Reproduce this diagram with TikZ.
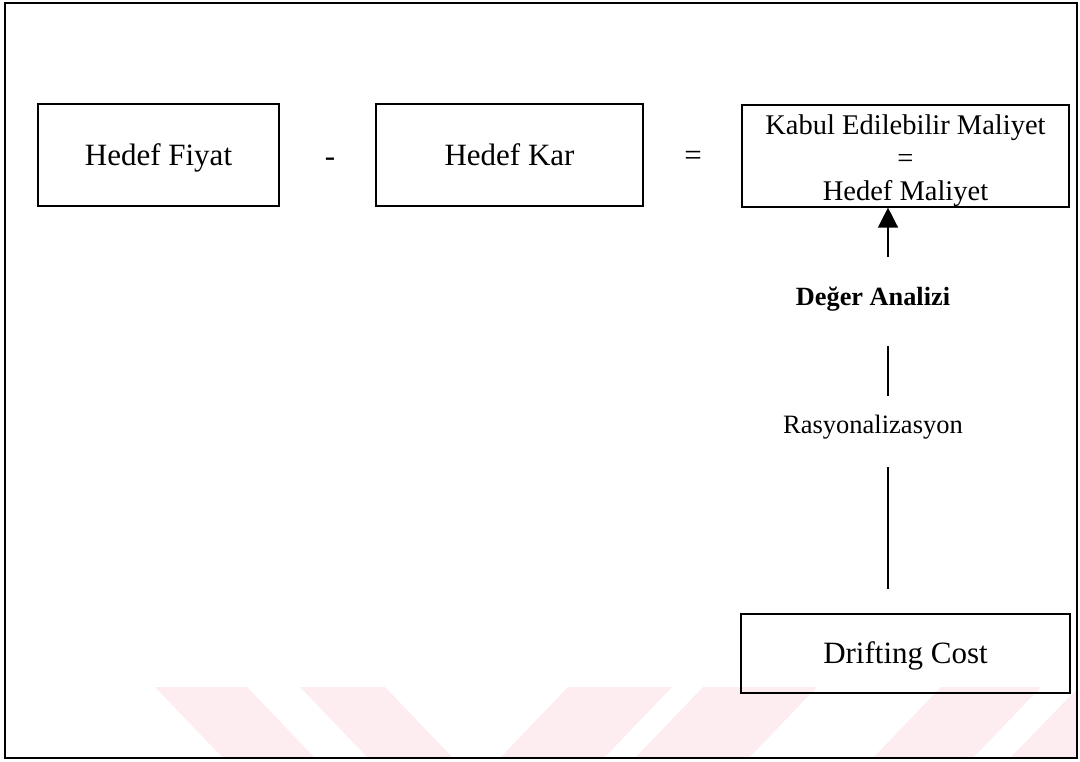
\documentclass[tikz,border=0pt]{standalone}
\usepackage{fontspec}
\setmainfont{Liberation Serif}
\usetikzlibrary{arrows.meta}
\definecolor{stripepink}{RGB}{253,236,240}
\tikzset{
  boxtext/.style={font=\fontsize{31bp}{36bp}\selectfont},
  costbox/.style={draw, line width=1.2bp, inner sep=0pt, boxtext,
                  text height=20.5bp, text depth=0bp},
  flowlabel/.style={anchor=base, font=\fontsize{25.5bp}{30bp}\selectfont},
  flowline/.style={line width=1.5bp},
  stripe/.style={fill=stripepink, draw=none}
}
\begin{document}
\begin{tikzpicture}[x=1bp, y=-1bp]
  \useasboundingbox (0,0) rectangle (1080,762);

  % faint diagonal bands along the bottom edge
  \fill[stripe] (155,687) -- (247,687) -- (315,758) -- (223,758) -- cycle;
  \fill[stripe] (300,687) -- (385,687) -- (453,758) -- (368,758) -- cycle;
  \fill[stripe] (568,687) -- (672,687) -- (604,758) -- (500,758) -- cycle;
  \fill[stripe] (703,687) -- (817,687) -- (749,758) -- (635,758) -- cycle;
  \fill[stripe] (941,687) -- (1041,687) -- (973,758) -- (873,758) -- cycle;
  \fill[stripe] (1010,758) -- (1077,758) -- (1077,689) -- cycle;

  % outer frame
  \draw[line width=1.5bp] (5,3) rectangle (1077,758);

  % price - profit = cost
  \node[costbox, minimum width=241bp, minimum height=102bp] (fiyat) at (158.5,155) {Hedef Fiyat};
  \node[anchor=base, boxtext] (minus) at (330,166) {-};
  \node[costbox, minimum width=267bp, minimum height=102bp] (kar) at (509.5,155) {Hedef Kar};
  \node[anchor=base, boxtext] (equals) at (693,165) {=};
  \node[draw, line width=1.2bp, inner sep=0pt, minimum width=327bp, minimum height=102bp,
        align=center, text height=88bp, text depth=0bp,
        font=\fontsize{28.5bp}{33bp}\selectfont] (hedef) at (905.5,156)
        {Kabul Edilebilir Maliyet\\=\\Hedef Maliyet};

  % drifting cost at the bottom
  \node[costbox, minimum width=329bp, minimum height=79bp] (drift) at (905.5,653.5) {Drifting Cost};

  % labels on the vertical path
  \node[flowlabel, font=\fontsize{26.3bp}{30bp}\selectfont\bfseries] (deger) at (873,305) {Değer Analizi};
  \node[flowlabel, font=\fontsize{26.5bp}{30bp}\selectfont] (rasyo) at (873,433) {Rasyonalizasyon};

  % line ends of the vertical path
  \coordinate (arrowfoot) at (888,257);
  \coordinate (midtop) at (888,346);
  \coordinate (midbot) at (888,396);
  \coordinate (lowtop) at (888,467);
  \coordinate (lowbot) at (888,589);

  \draw[flowline, -{Triangle[width=20bp, length=20bp]}] (arrowfoot) -- (arrowfoot |- hedef.south);
  \draw[flowline] (midtop) -- (midbot);
  \draw[flowline] (lowtop) -- (lowbot);
\end{tikzpicture}
\end{document}
